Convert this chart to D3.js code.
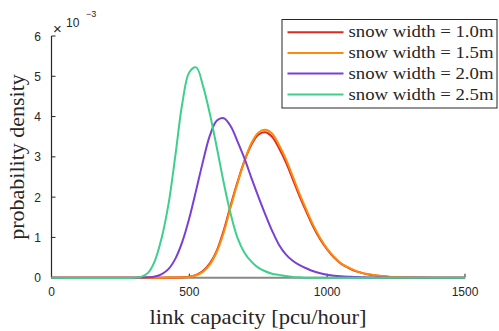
<!DOCTYPE html>
<html>
<head>
<meta charset="utf-8">
<script src="https://cdn.jsdelivr.net/npm/d3@7"></script>
<style>
  html, body { margin: 0; padding: 0; background: #fff; }
  svg { display: block; }
  .tick-label { font-family: "Liberation Sans", Arial, sans-serif; font-size: 12px; fill: #262626; }
  .serif { font-family: "Liberation Serif", "Times New Roman", serif; fill: #262626; }
</style>
</head>
<body>
<script>
// values (density in units of 1e-3)
const capacity = [0, 300, 325, 350, 375, 400, 425, 450, 475, 500, 525, 550, 575, 600, 625, 650, 675, 700,
  725, 750, 775, 800, 825, 850, 875, 900, 925, 950, 975, 1000, 1025, 1050, 1075, 1100, 1125, 1150,
  1175, 1200, 1225, 1250, 1275, 1300, 1500];

const width10 = [0, 0, 0, 0, 0, 0, 0.002, 0.005, 0.01, 0.025, 0.07, 0.17, 0.36, 0.68, 1.18, 1.80, 2.38, 2.90,
  3.30, 3.55, 3.61, 3.50, 3.22, 2.87, 2.45, 2.02, 1.63, 1.26, 0.95, 0.70, 0.50, 0.35, 0.25, 0.17, 0.12, 0.08,
  0.055, 0.035, 0.02, 0.012, 0.006, 0.003, 0];

const width15 = [0, 0, 0, 0, 0, 0, 0.002, 0.005, 0.01, 0.02, 0.06, 0.15, 0.33, 0.65, 1.13, 1.75, 2.35, 2.90,
  3.34, 3.60, 3.67, 3.58, 3.30, 2.95, 2.52, 2.08, 1.68, 1.30, 0.98, 0.72, 0.52, 0.36, 0.26, 0.18, 0.12, 0.09,
  0.06, 0.04, 0.025, 0.015, 0.008, 0.004, 0];

const width20 = [0, 0, 0.004, 0.01, 0.03, 0.09, 0.22, 0.48, 0.90, 1.48, 2.18, 2.90, 3.54, 3.90, 3.96, 3.76, 3.38, 2.96,
  2.48, 2.02, 1.58, 1.17, 0.82, 0.58, 0.42, 0.31, 0.23, 0.16, 0.11, 0.075, 0.05, 0.035, 0.025, 0.018, 0.012, 0.008,
  0.005, 0.003, 0.001, 0, 0, 0, 0];

const width25 = [0, 0, 0.02, 0.12, 0.42, 1.00, 1.85, 3.07, 4.35, 5.10, 5.22, 4.75, 4.05, 3.22, 2.35, 1.58, 0.98, 0.62,
  0.40, 0.25, 0.16, 0.10, 0.07, 0.04, 0.02, 0.01, 0, 0, 0, 0, 0, 0, 0, 0, 0, 0,
  0, 0, 0, 0, 0, 0, 0];

const seriesNames = ["snow width = 1.0m", "snow width = 1.5m", "snow width = 2.0m", "snow width = 2.5m"];
const seriesColors = ["#dc2a24", "#ff8a0a", "#7a40d4", "#3ecf8c"];
const xTicks = [0, 500, 1000, 1500];
const yTicks = [0, 1, 2, 3, 4, 5, 6];

const W = 499, H = 331;
const svg = d3.select("body").append("svg").attr("width", W).attr("height", H);

const x = d3.scaleLinear().domain([0, 1500]).range([51.5, 465]);
const y = d3.scaleLinear().domain([0, 6]).range([277.7, 36]);

// bottom axis line (drawn first so the curves sit on top)
svg.append("line")
  .attr("x1", x(0)).attr("x2", x(1500)).attr("y1", y(0)).attr("y2", y(0))
  .attr("stroke", "#888").attr("stroke-width", 2);

// x ticks (inward)
xTicks.forEach(t => {
  svg.append("line")
    .attr("x1", x(t)).attr("x2", x(t)).attr("y1", y(0)).attr("y2", y(0) - 4)
    .attr("stroke", "#262626").attr("stroke-width", 1);
  svg.append("text").attr("class", "tick-label")
    .attr("x", x(t)).attr("y", 296)
    .attr("text-anchor", "middle")
    .text(t);
});

// y axis
svg.append("line")
  .attr("x1", x(0)).attr("x2", x(0)).attr("y1", y(0)).attr("y2", y(6))
  .attr("stroke", "#262626").attr("stroke-width", 1.2);

yTicks.forEach(t => {
  svg.append("line")
    .attr("x1", x(0)).attr("x2", x(0) + 4).attr("y1", y(t)).attr("y2", y(t))
    .attr("stroke", "#262626").attr("stroke-width", 1);
  svg.append("text").attr("class", "tick-label")
    .attr("x", 41).attr("y", y(t) + 4.5)
    .attr("text-anchor", "end")
    .text(t);
});

// exponent note
const expo = svg.append("g").attr("class", "tick-label");
expo.append("text").attr("x", 53).attr("y", 34).style("font-size", "15px").text("\u00d7");
expo.append("text").attr("x", 66).attr("y", 27).style("font-size", "12px").text("10");
expo.append("text").attr("x", 86).attr("y", 17).style("font-size", "9px").text("\u22123");

// curves
const allSeries = [width10, width15, width20, width25];
const line = d3.line()
  .x((d, i) => x(capacity[i]))
  .y(d => y(d))
  .curve(d3.curveCatmullRom.alpha(0.5));

svg.selectAll(".curve")
  .data(allSeries)
  .enter()
  .append("path")
  .attr("class", "curve")
  .attr("fill", "none")
  .attr("stroke", (d, i) => seriesColors[i])
  .attr("stroke-width", 2)
  .attr("d", line);

// axis labels
svg.append("text").attr("class", "serif")
  .attr("x", 258).attr("y", 324)
  .attr("text-anchor", "middle")
  .attr("textLength", 217).attr("lengthAdjust", "spacingAndGlyphs")
  .style("font-size", "21px")
  .text("link capacity [pcu/hour]");

svg.append("text").attr("class", "serif")
  .attr("transform", "translate(24," + 157 + ") rotate(-90)")
  .attr("text-anchor", "middle")
  .style("font-size", "22px")
  .text("probability density");

// legend
const lg = svg.append("g");
lg.append("rect")
  .attr("x", 282).attr("y", 19.5).attr("width", 215).attr("height", 88.5)
  .attr("fill", "#fff").attr("stroke", "#262626").attr("stroke-width", 1);

const rowY = [32.3, 52.9, 73.6, 94.6];
seriesNames.forEach((name, i) => {
  lg.append("line")
    .attr("x1", 287.5).attr("x2", 343.5).attr("y1", rowY[i]).attr("y2", rowY[i])
    .attr("stroke", seriesColors[i]).attr("stroke-width", 2);
  lg.append("text").attr("class", "serif")
    .attr("x", 348.5).attr("y", rowY[i] + 5)
    .attr("textLength", 145).attr("lengthAdjust", "spacingAndGlyphs")
    .style("font-size", "16px")
    .text(name);
});
</script>
</body>
</html>
